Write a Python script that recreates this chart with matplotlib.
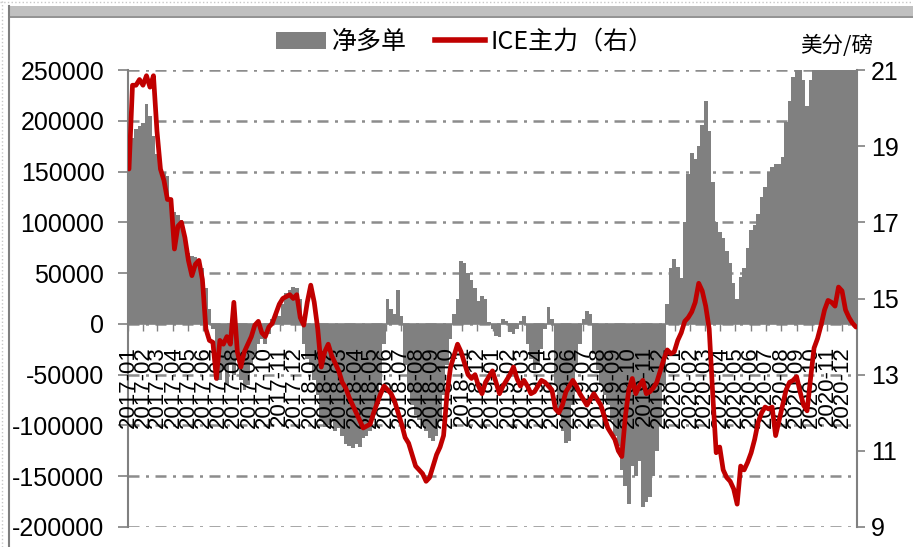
import numpy as np
import pandas as pd
import matplotlib
matplotlib.use('Agg')
import matplotlib.pyplot as plt
import matplotlib.dates as mdates
from matplotlib.lines import Line2D
from matplotlib.patches import Rectangle, Patch
from matplotlib.ticker import FuncFormatter

# ---------------- data ----------------
weeks = pd.date_range('2017-01-03', periods=209, freq='7D')

# CFTC net long (thousand contracts)
net_long_k = [
    155, 183, 192, 195, 198, 217, 205, 185, 167, 160,
    150, 146, 122, 110, 107, 102, 85, 70, 67, 66,
    62, 55, 35, 15, -5, -30, -55, -45, -60, -40,
    -50, -35, -55, -65, -60, -40, -30, -20, -15, -20,
    -10, 5, 10, 8, 20, 30, 33, 36, 35, 25,
    -20, -35, -40, -55, -70, -95, -102, -100, -95, -105,
    -103, -110, -118, -120, -122, -118, -121, -112, -110, -105,
    -95, -80, -60, -20, 25, 15, 10, 33, 8, -40,
    -65, -80, -90, -95, -100, -105, -112, -115, -110, -95,
    -70, -40, -15, 10, 25, 62, 60, 50, 43, 35,
    23, 27, 25, 2, -5, -12, -13, 5, 3, -8,
    -10, -5, 3, 8, -20, -35, -45, -40, -25, -5,
    17, 5, -60, -90, -105, -117, -115, -80, -40, -20,
    5, 13, 10, -30, -45, -60, -70, -80, -95, -110,
    -120, -144, -160, -177, -140, -150, -135, -180, -175, -170,
    -150, -125, -100, -60, 20, 55, 64, 56, 45, 100,
    148, 168, 162, 175, 196, 219, 190, 140, 100, 90,
    85, 72, 60, 40, 25, 46, 55, 75, 92, 97,
    108, 125, 135, 150, 154, 157, 157, 164, 199, 219,
    243, 250, 255, 240, 215, 240, 258, 262, 265, 270,
    268, 272, 275, 270, 268, 265, 262, 260, 258,
]

# ICE raw sugar front month (US cents / lb)
ice_price = [
    18.4, 20.6, 20.6, 20.75, 20.6, 20.85, 20.55, 20.85, 19.4, 18.4,
    18.1, 17.6, 17.6, 16.3, 16.9, 17.0, 16.6, 16.0, 15.6, 15.9,
    16.0, 15.5, 14.2, 13.9, 13.85, 12.9, 13.9, 13.8, 14.0, 13.8,
    14.9, 13.6, 13.2, 13.6, 13.8, 14.0, 14.3, 14.4, 14.1, 14.0,
    14.25, 14.35, 14.6, 14.85, 15.0, 15.05, 15.1, 15.0, 15.1, 14.5,
    14.3, 14.9, 15.35, 14.9, 14.2, 13.2, 13.6, 13.8, 13.5, 13.3,
    13.1, 12.8, 12.65, 12.4, 12.2, 12.0, 11.8, 11.6, 11.65, 11.7,
    12.0, 12.25, 12.5, 12.7, 12.6, 12.5, 12.3, 12.0, 11.7, 11.35,
    11.2, 10.9, 10.6, 10.5, 10.4, 10.2, 10.3, 10.6, 10.9, 11.1,
    11.4, 12.5, 13.2, 13.5, 13.8, 13.6, 13.3, 13.0, 12.9, 13.0,
    12.7, 12.5, 12.8, 12.95, 13.1, 12.8, 12.5, 12.7, 12.85, 13.0,
    13.2, 12.9, 12.7, 12.85, 12.7, 12.5, 12.55, 12.7, 12.85, 12.8,
    12.7, 12.6, 12.1, 12.0, 12.2, 12.55, 12.7, 12.85, 12.7, 12.5,
    12.35, 12.2, 12.35, 12.5, 12.35, 12.2, 11.9, 11.6, 11.45, 11.3,
    11.0, 10.85, 11.9, 12.6, 12.9, 12.5, 12.7, 12.85, 12.5, 12.55,
    12.65, 12.8, 13.1, 13.4, 13.65, 13.55, 13.6, 13.9, 14.1, 14.4,
    14.5, 14.65, 14.9, 15.4, 15.2, 14.8, 14.2, 12.5, 10.95, 11.1,
    10.5, 10.3, 10.2, 10.0, 9.6, 10.6, 10.5, 10.7, 10.95, 11.3,
    11.75, 12.0, 12.15, 12.1, 12.15, 11.4, 11.8, 12.2, 12.6, 12.8,
    12.85, 12.95, 12.55, 12.2, 12.05, 12.9, 13.7, 13.95, 14.3, 14.7,
    14.95, 14.9, 14.8, 15.3, 15.2, 14.7, 14.5, 14.35, 14.25,
]

left_ticks = [-200000, -150000, -100000, -50000, 0, 50000, 100000, 150000, 200000, 250000]
right_ticks = [9, 11, 13, 15, 17, 19, 21]
legend_labels = ['净多单', 'ICE主力（右）']
unit_label = '美分/磅'

# ---------------- style ----------------
plt.rcParams['axes.unicode_minus'] = False
plt.rcParams['font.family'] = ['Liberation Sans', 'Noto Sans CJK SC']
CJK = ['Noto Sans CJK SC', 'Liberation Sans']
GRAY = '#808080'
BAR = '#808080'
RED = '#c00000'

W, H = 913, 547
fig = plt.figure(figsize=(W / 100, H / 100), dpi=100)
fig.patch.set_facecolor('white')

ax = fig.add_axes([128 / W, (H - 527) / H, (857 - 128) / W, (527 - 70) / H])

ax.bar(weeks, np.array(net_long_k) * 1000, width=7.3, color=BAR,
       linewidth=0, zorder=2)
ax.set_ylim(-200000, 250000)
ax.set_xlim(pd.Timestamp('2017-01-01'), pd.Timestamp('2020-12-31'))
ax.set_yticks(left_ticks)
ax.yaxis.set_major_formatter(FuncFormatter(lambda v, p: f'{int(v)}'))
ax.grid(axis='y', color='#8c8c8c', linewidth=1.8,
        linestyle=(0, (4.4, 2.6, 1.2, 2.6)))
ax.set_axisbelow(True)
ax.xaxis.set_zorder(3)

ax.xaxis.set_major_locator(mdates.MonthLocator())
ax.xaxis.set_major_formatter(mdates.DateFormatter('%Y-%m'))
ax.tick_params(axis='x', direction='out', length=5, width=1, color=GRAY,
               labelsize=16, labelrotation=90, pad=11)
ax.tick_params(axis='y', direction='out', length=7, width=1.2, color=GRAY,
               labelsize=18, pad=10)

for s in ['top', 'right']:
    ax.spines[s].set_visible(False)
ax.spines['bottom'].set_position(('data', 0))
ax.spines['bottom'].set_color(GRAY)
ax.spines['bottom'].set_linewidth(1.2)
ax.spines['left'].set_color(GRAY)
ax.spines['left'].set_linewidth(1.5)

ax2 = ax.twinx()
ax2.plot(weeks, ice_price, color=RED, linewidth=3.4, solid_joinstyle='round',
         solid_capstyle='round', zorder=3)
ax2.set_ylim(9, 21)
ax2.set_yticks(right_ticks)
ax2.tick_params(axis='y', direction='out', length=6, width=1.2, color=GRAY,
                labelsize=18, pad=4)
for s in ['top', 'left', 'bottom']:
    ax2.spines[s].set_visible(False)
ax2.spines['right'].set_color(GRAY)
ax2.spines['right'].set_linewidth(1.5)

# unit label
fig.text(837 / W, 1 - 46 / H, unit_label, ha='center', va='center',
         fontsize=15.5, family=CJK)

# legend
handles = [Patch(facecolor=BAR, edgecolor='none'),
           Line2D([0], [0], color=RED, linewidth=4)]
fig.legend(handles, legend_labels, loc='center',
           bbox_to_anchor=(465 / W, 1 - 42 / H), ncol=2, frameon=False,
           prop={'family': CJK, 'size': 18}, handlelength=2.0,
           handleheight=0.7, handletextpad=0.25, columnspacing=1.1,
           borderaxespad=0)

# outer chart frame
fig.add_artist(Rectangle((9 / W, 1 - 16 / H), 1 - 9 / W, 10 / H,
                         transform=fig.transFigure, facecolor='#c0c0c0',
                         edgecolor='none'))
fig.add_artist(Line2D([9 / W, 1], [1 - 16.5 / H, 1 - 16.5 / H],
                      transform=fig.transFigure, color='#7f7f7f', linewidth=1.2))
fig.add_artist(Line2D([9 / W, 9 / W], [0, 1 - 6 / H],
                      transform=fig.transFigure, color='#7f7f7f', linewidth=1.5))
fig.add_artist(Line2D([2 / W, 2 / W], [0, 1], transform=fig.transFigure,
                      color='#c8c8c8', linewidth=1, linestyle=':'))
fig.add_artist(Line2D([0, 1], [1 - 2 / H, 1 - 2 / H], transform=fig.transFigure,
                      color='#c8c8c8', linewidth=1, linestyle=':'))

fig.savefig('out.png', dpi=100, facecolor='white')
